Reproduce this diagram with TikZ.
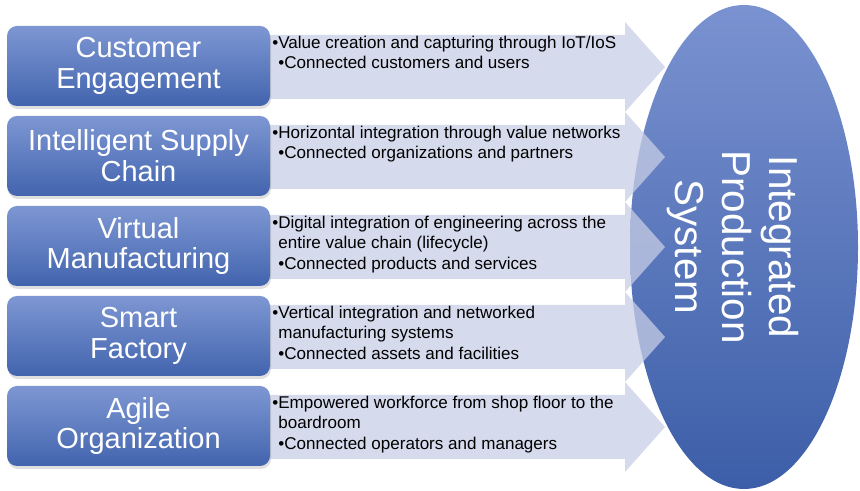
\documentclass[tikz,border=0pt]{standalone}
\usepackage{fontspec}
\setmainfont{Liberation Sans}
\usetikzlibrary{shadows}

\definecolor{boxtop}{RGB}{126,151,211}
\definecolor{boxbot}{RGB}{66,100,174}
\definecolor{ovaltop}{RGB}{122,146,208}
\definecolor{ovalbot}{RGB}{60,94,168}
\definecolor{bandfill}{RGB}{199,205,229}

\tikzset{
  pillar/.style={rounded corners=0.2cm, minimum width=5.26cm, minimum height=1.6cm,
    top color=boxtop, bottom color=boxbot, text=white, align=center,
    font=\fontsize{16.5}{17.5}\selectfont,
    drop shadow={shadow xshift=0.02cm, shadow yshift=-0.06cm, opacity=0.25}},
  band/.style={fill=bandfill, fill opacity=0.75},
  bandtext/.style={anchor=north west, inner sep=0pt, align=left,
    font=\fontsize{9.7}{11.5}\selectfont}
}

\begin{document}
\begin{tikzpicture}
\useasboundingbox (0,0) rectangle (17.2,9.82);

% the oval the five streams feed into
\shade[top color=ovaltop, bottom color=ovalbot] (14.88,4.88) ellipse (2.28cm and 4.84cm);
\node[rotate=-90, align=center, text=white, inner sep=0pt,
  font=\fontsize{23}{26.6}\selectfont] (ips) at (14.66,4.88) {Integrated\\Production\\System};

% wide arrows, shaft 1.28 high, head 1.8 high
\fill[band] (5.24,9.12) -- ++(7.26,0) -- ++(0,0.26) -- ++(0.8,-0.9) -- ++(-0.8,-0.9) -- ++(0,0.26) -- ++(-7.26,0) -- cycle;
\fill[band] (5.24,7.32) -- ++(7.26,0) -- ++(0,0.26) -- ++(0.8,-0.9) -- ++(-0.8,-0.9) -- ++(0,0.26) -- ++(-7.26,0) -- cycle;
\fill[band] (5.24,5.52) -- ++(7.26,0) -- ++(0,0.26) -- ++(0.8,-0.9) -- ++(-0.8,-0.9) -- ++(0,0.26) -- ++(-7.26,0) -- cycle;
\fill[band] (5.24,3.72) -- ++(7.26,0) -- ++(0,0.26) -- ++(0.8,-0.9) -- ++(-0.8,-0.9) -- ++(0,0.26) -- ++(-7.26,0) -- cycle;
\fill[band] (5.24,1.92) -- ++(7.26,0) -- ++(0,0.26) -- ++(0.8,-0.9) -- ++(-0.8,-0.9) -- ++(0,0.26) -- ++(-7.26,0) -- cycle;

% the five pillars
\node[pillar] (ce)  at (2.77,8.5) {Customer\\Engagement};
\node[pillar] (isc) at (2.77,6.7) {Intelligent Supply\\Chain};
\node[pillar] (vm)  at (2.77,4.9) {Virtual\\Manufacturing};
\node[pillar] (sf)  at (2.77,3.1) {Smart\\Factory};
\node[pillar] (ao)  at (2.77,1.3) {Agile\\Organization};

% bullet text on the arrows
\node[bandtext] (ce-t) at (5.44,9.1) {•Value creation and capturing through IoT/IoS\\
  \phantom{•}•Connected customers and users};
\node[bandtext] (isc-t) at (5.44,7.3) {•Horizontal integration through value networks\\
  \phantom{•}•Connected organizations and partners};
\node[bandtext] (vm-t) at (5.44,5.5) {•Digital integration of engineering across the\\
  \phantom{•}entire value chain (lifecycle)\\
  \phantom{•}•Connected products and services};
\node[bandtext] (sf-t) at (5.44,3.7) {•Vertical integration and networked\\
  \phantom{•}manufacturing systems\\
  \phantom{•}•Connected assets and facilities};
\node[bandtext] (ao-t) at (5.44,1.9) {•Empowered workforce from shop floor to the\\
  \phantom{•}boardroom\\
  \phantom{•}•Connected operators and managers};
\end{tikzpicture}
\end{document}
